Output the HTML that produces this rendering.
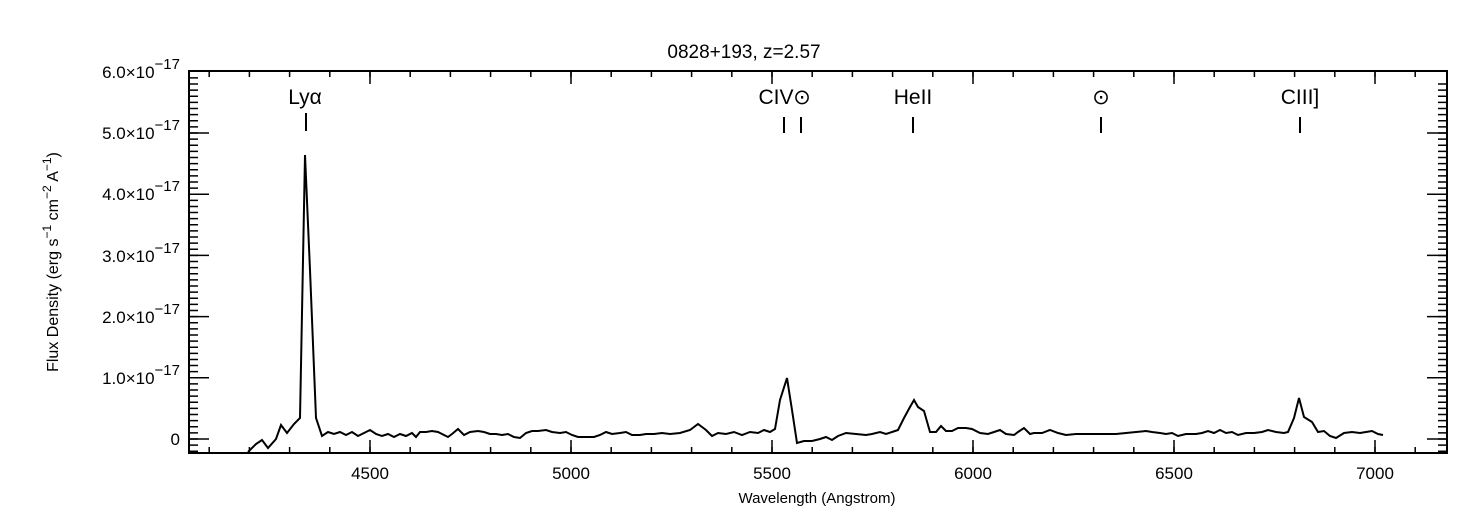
<!DOCTYPE html>
<html><head><meta charset="utf-8"><style>
body{margin:0;background:#fff;}
svg{display:block;font-family:"Liberation Sans","DejaVu Sans",sans-serif;}
</style></head><body>
<svg width="1479" height="517" viewBox="0 0 1479 517" xmlns="http://www.w3.org/2000/svg">
<g stroke="#000" fill="none" stroke-width="2">
<rect x="189" y="71" width="1258" height="382"/>
</g>
<g stroke="#000" fill="none" stroke-width="1.5">
<path d="M189,451.24h9m-9,-6.12h9m-9,-6.12h9m-9,-6.12h9m-9,-6.12h9m-9,-6.12h9m-9,-6.12h9m-9,-6.12h9m-9,-6.12h9m-9,-6.12h9m-9,-6.12h9m-9,-6.12h9m-9,-6.12h9m-9,-6.12h9m-9,-6.12h9m-9,-6.12h9m-9,-6.12h9m-9,-6.12h9m-9,-6.12h9m-9,-6.12h9m-9,-6.12h9m-9,-6.12h9m-9,-6.12h9m-9,-6.12h9m-9,-6.12h9m-9,-6.12h9m-9,-6.12h9m-9,-6.12h9m-9,-6.12h9m-9,-6.12h9m-9,-6.12h9m-9,-6.12h9m-9,-6.12h9m-9,-6.12h9m-9,-6.12h9m-9,-6.12h9m-9,-6.12h9m-9,-6.12h9m-9,-6.12h9m-9,-6.12h9m-9,-6.12h9m-9,-6.12h9m-9,-6.12h9m-9,-6.12h9m-9,-6.12h9m-9,-6.12h9m-9,-6.12h9m-9,-6.12h9m-9,-6.12h9m-9,-6.12h9m-9,-6.12h9m-9,-6.12h9m-9,-6.12h9m-9,-6.12h9m-9,-6.12h9m-9,-6.12h9m-9,-6.12h9m-9,-6.12h9m-9,-6.12h9m-9,-6.12h9m-9,-6.12h9m-9,-6.12h9"/>
<path d="M1447,451.24h-9m9,-6.12h-9m9,-6.12h-9m9,-6.12h-9m9,-6.12h-9m9,-6.12h-9m9,-6.12h-9m9,-6.12h-9m9,-6.12h-9m9,-6.12h-9m9,-6.12h-9m9,-6.12h-9m9,-6.12h-9m9,-6.12h-9m9,-6.12h-9m9,-6.12h-9m9,-6.12h-9m9,-6.12h-9m9,-6.12h-9m9,-6.12h-9m9,-6.12h-9m9,-6.12h-9m9,-6.12h-9m9,-6.12h-9m9,-6.12h-9m9,-6.12h-9m9,-6.12h-9m9,-6.12h-9m9,-6.12h-9m9,-6.12h-9m9,-6.12h-9m9,-6.12h-9m9,-6.12h-9m9,-6.12h-9m9,-6.12h-9m9,-6.12h-9m9,-6.12h-9m9,-6.12h-9m9,-6.12h-9m9,-6.12h-9m9,-6.12h-9m9,-6.12h-9m9,-6.12h-9m9,-6.12h-9m9,-6.12h-9m9,-6.12h-9m9,-6.12h-9m9,-6.12h-9m9,-6.12h-9m9,-6.12h-9m9,-6.12h-9m9,-6.12h-9m9,-6.12h-9m9,-6.12h-9m9,-6.12h-9m9,-6.12h-9m9,-6.12h-9m9,-6.12h-9m9,-6.12h-9m9,-6.12h-9m9,-6.12h-9"/>
<path d="M209.2,453v-6m40.2,6v-6m40.2,6v-6m40.2,6v-6m40.2,6v-6m40.2,6v-6m40.2,6v-6m40.2,6v-6m40.2,6v-6m40.2,6v-6m40.2,6v-6m40.2,6v-6m40.2,6v-6m40.2,6v-6m40.2,6v-6m40.2,6v-6m40.2,6v-6m40.2,6v-6m40.2,6v-6m40.2,6v-6m40.2,6v-6m40.2,6v-6m40.2,6v-6m40.2,6v-6m40.2,6v-6m40.2,6v-6m40.2,6v-6m40.2,6v-6m40.2,6v-6m40.2,6v-6m40.2,6v-6"/>
<path d="M209.2,71v6m40.2,-6v6m40.2,-6v6m40.2,-6v6m40.2,-6v6m40.2,-6v6m40.2,-6v6m40.2,-6v6m40.2,-6v6m40.2,-6v6m40.2,-6v6m40.2,-6v6m40.2,-6v6m40.2,-6v6m40.2,-6v6m40.2,-6v6m40.2,-6v6m40.2,-6v6m40.2,-6v6m40.2,-6v6m40.2,-6v6m40.2,-6v6m40.2,-6v6m40.2,-6v6m40.2,-6v6m40.2,-6v6m40.2,-6v6m40.2,-6v6m40.2,-6v6m40.2,-6v6m40.2,-6v6"/>
<path d="M370,453v-13M571,453v-13M772,453v-13M973,453v-13M1174,453v-13M1375,453v-13M370,71v13M571,71v13M772,71v13M973,71v13M1174,71v13M1375,71v13"/>
<path d="M189,439h20M189,377.8h20M189,316.6h20M189,255.4h20M189,194.2h20M189,133h20M1447,439h-20M1447,377.8h-20M1447,316.6h-20M1447,255.4h-20M1447,194.2h-20M1447,133h-20"/>
</g>
<g fill="#000" font-size="17">
<text x="744" y="58" text-anchor="middle" font-size="19">0828+193, z=2.57</text>
<text x="370" y="479" text-anchor="middle">4500</text>
<text x="571" y="479" text-anchor="middle">5000</text>
<text x="772" y="479" text-anchor="middle">5500</text>
<text x="973" y="479" text-anchor="middle">6000</text>
<text x="1174" y="479" text-anchor="middle">6500</text>
<text x="1375" y="479" text-anchor="middle">7000</text>
<text x="817" y="503" text-anchor="middle" font-size="15">Wavelength (Angstrom)</text>
<text x="180" y="445" text-anchor="end">0</text>
<text x="180" y="384" text-anchor="end">1.0×10<tspan dy="-9" font-size="15">−17</tspan></text>
<text x="180" y="323" text-anchor="end">2.0×10<tspan dy="-9" font-size="15">−17</tspan></text>
<text x="180" y="262" text-anchor="end">3.0×10<tspan dy="-9" font-size="15">−17</tspan></text>
<text x="180" y="200" text-anchor="end">4.0×10<tspan dy="-9" font-size="15">−17</tspan></text>
<text x="180" y="139" text-anchor="end">5.0×10<tspan dy="-9" font-size="15">−17</tspan></text>
<text x="180" y="78" text-anchor="end">6.0×10<tspan dy="-9" font-size="15">−17</tspan></text>
<text transform="translate(58,262) rotate(-90)" text-anchor="middle" font-size="16">Flux Density (erg s<tspan dy="-7" font-size="12">−1</tspan><tspan dy="7"> cm</tspan><tspan dy="-7" font-size="12">−2</tspan><tspan dy="7">  A</tspan><tspan dy="-7" font-size="12">−1</tspan><tspan dy="7">)</tspan></text>
<text x="305" y="104" text-anchor="middle" font-size="21">Lyα</text>
<text x="776" y="104" text-anchor="middle" font-size="21">CIV</text>
<text x="802" y="104" text-anchor="middle" font-size="21">⊙</text>
<text x="913" y="104" text-anchor="middle" font-size="21">HeII</text>
<text x="1101" y="104" text-anchor="middle" font-size="21">⊙</text>
<text x="1300" y="104" text-anchor="middle" font-size="21">CIII]</text>
</g>
<g stroke="#000" stroke-width="2">
<line x1="306" y1="113" x2="306" y2="131"/>
<line x1="784" y1="117" x2="784" y2="133"/>
<line x1="801" y1="117" x2="801" y2="133"/>
<line x1="913" y1="117" x2="913" y2="133"/>
<line x1="1101" y1="117" x2="1101" y2="133"/>
<line x1="1300" y1="117" x2="1300" y2="133"/>
</g>
<polyline fill="none" stroke="#000" stroke-width="2" points="
248,452 256,444 262,440 268,448 276,439 281,425 287,433 294,424 300,418 305,155 310,270 316,418 322,436 328,432 334,434 340,432 346,435 352,432 358,436 364,433 370,430 376,434 382,436 388,434 394,437 400,434 406,436 412,433 416,437 420,432 426,432 432,431 438,432 444,435 448,437 452,434 458,429 464,435 470,432 478,431 484,432 490,434 496,434 502,435 508,434 514,437 520,438 526,433 532,431 538,431 546,430 552,432 560,433 566,432 572,435 578,437 586,437 594,437 600,435 606,432 612,434 620,433 626,432 632,435 640,435 646,434 654,434 662,433 670,434 680,433 690,430 698,424 706,430 712,436 718,433 726,434 734,432 742,435 750,432 758,433 764,430 770,432 775,429 780,400 787,378 792,410 797,443 804,441 812,441 820,439 826,437 832,440 838,436 846,433 856,434 866,435 872,434 880,432 886,434 892,432 898,430 904,418 910,407 914,400 918,407 924,411 930,432 936,432 941,426 946,431 952,431 958,428 966,428 972,429 980,433 988,434 994,432 1000,430 1006,434 1014,435 1018,432 1024,428 1030,434 1034,433 1042,433 1050,430 1058,433 1066,435 1076,434 1086,434 1096,434 1106,434 1116,434 1126,433 1136,432 1146,431 1152,432 1160,433 1166,434 1172,433 1178,436 1186,434 1196,434 1202,433 1208,431 1214,433 1220,430 1226,433 1232,432 1238,435 1246,433 1254,433 1262,432 1268,430 1276,432 1284,433 1288,432 1294,418 1299,398 1304,417 1312,422 1318,432 1324,431 1330,436 1336,438 1344,433 1352,432 1360,433 1366,432 1372,431 1378,434 1383,435"/>
</svg>
</body></html>
